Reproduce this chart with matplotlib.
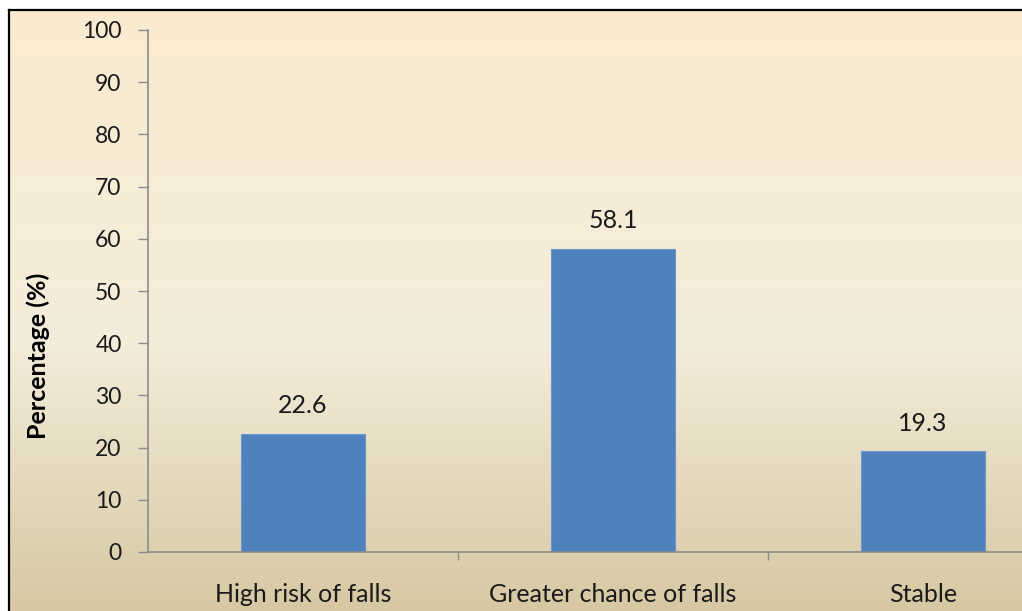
import numpy as np
import matplotlib.pyplot as plt
from matplotlib.colors import LinearSegmentedColormap

categories = ["High risk of falls", "Greater chance of falls", "Stable"]
values = [22.6, 58.1, 19.3]
yticks = [0, 10, 20, 30, 40, 50, 60, 70, 80, 90, 100]

plt.rcParams['font.family'] = ['Lato', 'DejaVu Sans']

W, H = 1022, 611
fig = plt.figure(figsize=(W / 100, H / 100), dpi=100, facecolor='white')

# background panel with vertical gradient and black frame (left/top)
bx0, by0 = 8.5 / W, 0.0
bg = fig.add_axes([bx0, by0, 1 - bx0, 1 - 9.5 / H], zorder=0)
cmap = LinearSegmentedColormap.from_list(
    'parch', [(0.0, '#fbebd0'), (0.55, '#f4eddb'), (1.0, '#d7c8a3')])
grad = np.linspace(0, 1, 256).reshape(-1, 1)
bg.imshow(grad, aspect='auto', cmap=cmap, extent=[0, 1, 0, 1], origin='upper')
bg.set_xticks([])
bg.set_yticks([])
for side in ['right', 'bottom']:
    bg.spines[side].set_visible(False)
for side in ['left', 'top']:
    bg.spines[side].set_color('black')
    bg.spines[side].set_linewidth(1.6)

# main chart axes, extends past right edge like the reference crop
ax = fig.add_axes([148 / W, (H - 552) / H, 930 / W, 522 / H], zorder=1)
ax.patch.set_alpha(0)
x = np.arange(len(categories))
ax.bar(x, values, width=0.4, color='#4f81bd', edgecolor='#6a96c9',
       linewidth=0.8, zorder=2)
for xi, v in zip(x, values):
    ax.annotate(f"{v}", (xi, v), xytext=(0, 12), textcoords='offset points',
                ha='center', va='bottom', fontsize=18, color='#1a1a1a')

ax.set_xlim(-0.5, 2.5)
ax.set_ylim(0, 100)
ax.set_yticks(yticks)
ax.set_xticks(x)
ax.set_xticklabels(categories)
ax.set_xticks([0.5, 1.5], minor=True)
ax.tick_params(axis='x', which='major', length=0, pad=22,
               labelsize=18, labelcolor='#1a1a1a')
ax.tick_params(axis='x', which='minor', length=6, width=1, color='#8c8c8c',
               direction='out')
ax.tick_params(axis='y', length=7, width=1, color='#8c8c8c', pad=12,
               labelsize=16.5, labelcolor='#1a1a1a')
for side in ['top', 'right']:
    ax.spines[side].set_visible(False)
for side in ['left', 'bottom']:
    ax.spines[side].set_color('#8c8c8c')
    ax.spines[side].set_linewidth(1.2)
ax.set_ylabel("Percentage (%)", fontsize=18, fontweight='bold',
              color='black')
ax.yaxis.set_label_coords(-98 / 930, (552 - 356) / 522)

fig.savefig('out.png', dpi=100, facecolor='white')
